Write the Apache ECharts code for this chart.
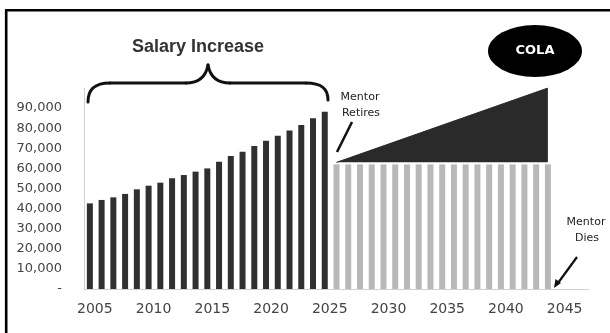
<!DOCTYPE html>
<html>
<head>
<meta charset="utf-8">
<script src="https://cdn.jsdelivr.net/npm/echarts@6/dist/echarts.min.js"></script>
<style>
html,body{margin:0;padding:0;background:#fff;}
#chart{width:610px;height:333px;}
</style>
</head>
<body>
<div id="chart"></div>
<script>
// Categories (years)
var years = ['2005','2006','2007','2008','2009','2010','2011','2012','2013','2014','2015','2016','2017','2018','2019','2020','2021','2022','2023','2024','2025','2026','2027','2028','2029','2030','2031','2032','2033','2034','2035','2036','2037','2038','2039','2040','2041','2042','2043','2044','2045','2046','2047'];
// Salary (dark bars), 2005-2025
var salary = [42600,44300,45600,47300,49600,51400,52900,55100,56700,58400,60000,63300,66200,68300,71100,73800,76300,78800,81600,84900,88200,null,null,null,null,null,null,null,null,null,null,null,null,null,null,null,null,null,null,null,null,null,null];
// Pension (light bars), 2026-2044
var pension = [null,null,null,null,null,null,null,null,null,null,null,null,null,null,null,null,null,null,null,null,null,62000,62000,62000,62000,62000,62000,62000,62000,62000,62000,62000,62000,62000,62000,62000,62000,62000,62000,62000,null,null,null];
// COLA wedge: start (2026) and end (2044) values
var cola = [null,null,null,null,null,null,null,null,null,null,null,null,null,null,null,null,null,null,null,null,null,63000,null,null,null,null,null,null,null,null,null,null,null,null,null,null,null,null,null,100000,null,null,null];
var colaBase = 63000;
// Y tick labels
var yTickLabels = ['-','10,000','20,000','30,000','40,000','50,000','60,000','70,000','80,000','90,000',''];

var chart = echarts.init(document.getElementById('chart'), null, {renderer:'canvas'});
var braceStyle = {fill:null, stroke:'#111', lineWidth:3, lineCap:'round'};
var annFont = '11px "DejaVu Sans", sans-serif';
var option = {
  animation:false,
  backgroundColor:'#fff',
  grid:{left:84, right:21, top:88, bottom:44, containLabel:false},
  xAxis:{
    type:'category', data:years, boundaryGap:true,
    axisLine:{show:true, lineStyle:{color:'#d0d0d0', width:1}},
    axisTick:{show:false},
    axisLabel:{interval:4, color:'#444', fontFamily:'DejaVu Sans', fontSize:14, margin:13, padding:[0,0,0,10]},
    splitLine:{show:false}
  },
  yAxis:{
    type:'value', min:0, max:100000, interval:10000,
    axisLine:{show:true, lineStyle:{color:'#d0d0d0', width:1}},
    axisTick:{show:false},
    splitLine:{show:false},
    axisLabel:{color:'#444', fontFamily:'DejaVu Sans', fontSize:13, margin:22,
      formatter:function(v){ return yTickLabels[Math.round(v/10000)]; }}
  },
  series:[
    {type:'bar', name:'Salary', data:salary, stack:'s', barWidth:6,
      itemStyle:{color:'#303030'}},
    {type:'bar', name:'Pension', data:pension, stack:'s', barWidth:6,
      itemStyle:{color:'#b8b8b8'}},
    {type:'line', name:'COLA', data:cola, connectNulls:true, symbol:'none',
      lineStyle:{color:'#2a2a2a', width:1},
      areaStyle:{color:'#2a2a2a', opacity:1, origin:colaBase}, z:3}
  ],
  graphic:[
    {type:'rect', shape:{x:6.2, y:10.2, width:640, height:400}, style:{fill:null, stroke:'#000', lineWidth:2.6}, silent:true},
    {type:'text', x:198, y:47, style:{text:'Salary Increase', font:'bold 18px "Liberation Sans", Arial, sans-serif', fill:'#333', textAlign:'center', textVerticalAlign:'middle'}},
    {type:'bezierCurve', shape:{x1:88,y1:102,cpx1:88,cpy1:89,cpx2:95,cpy2:83,x2:110,y2:83}, style:braceStyle},
    {type:'line', shape:{x1:110,y1:83,x2:186,y2:83}, style:braceStyle},
    {type:'bezierCurve', shape:{x1:186,y1:83,cpx1:200,cpy1:83,cpx2:206,cpy2:76,x2:208,y2:65}, style:braceStyle},
    {type:'bezierCurve', shape:{x1:208,y1:65,cpx1:210,cpy1:76,cpx2:216,cpy2:83,x2:230,y2:83}, style:braceStyle},
    {type:'line', shape:{x1:230,y1:83,x2:306,y2:83}, style:braceStyle},
    {type:'bezierCurve', shape:{x1:306,y1:83,cpx1:321,cpy1:83,cpx2:328,cpy2:88,x2:328,y2:100}, style:braceStyle},
    {type:'circle', x:535, y:51, scaleX:47/26, scaleY:1, shape:{cx:0, cy:0, r:26}, style:{fill:'#000'}},
    {type:'text', x:535, y:51, style:{text:'COLA', font:'bold 13px "DejaVu Sans", sans-serif', fill:'#fff', textAlign:'center', textVerticalAlign:'middle'}},
    {type:'text', x:360, y:97, style:{text:'Mentor', font:annFont, fill:'#222', textAlign:'center', textVerticalAlign:'middle'}},
    {type:'text', x:361, y:113, style:{text:'Retires', font:annFont, fill:'#222', textAlign:'center', textVerticalAlign:'middle'}},
    {type:'line', shape:{x1:352, y1:122, x2:337, y2:152}, style:{stroke:'#111', lineWidth:2.5}},
    {type:'text', x:586, y:222, style:{text:'Mentor', font:annFont, fill:'#222', textAlign:'center', textVerticalAlign:'middle'}},
    {type:'text', x:587, y:238, style:{text:'Dies', font:annFont, fill:'#222', textAlign:'center', textVerticalAlign:'middle'}},
    {type:'line', shape:{x1:577, y1:257, x2:558, y2:283}, style:{stroke:'#111', lineWidth:2.2}},
    {type:'polygon', shape:{points:[[554,288],[555.5,279],[561,283]]}, style:{fill:'#111'}}
  ]
};
chart.setOption(option);
</script>
</body>
</html>
